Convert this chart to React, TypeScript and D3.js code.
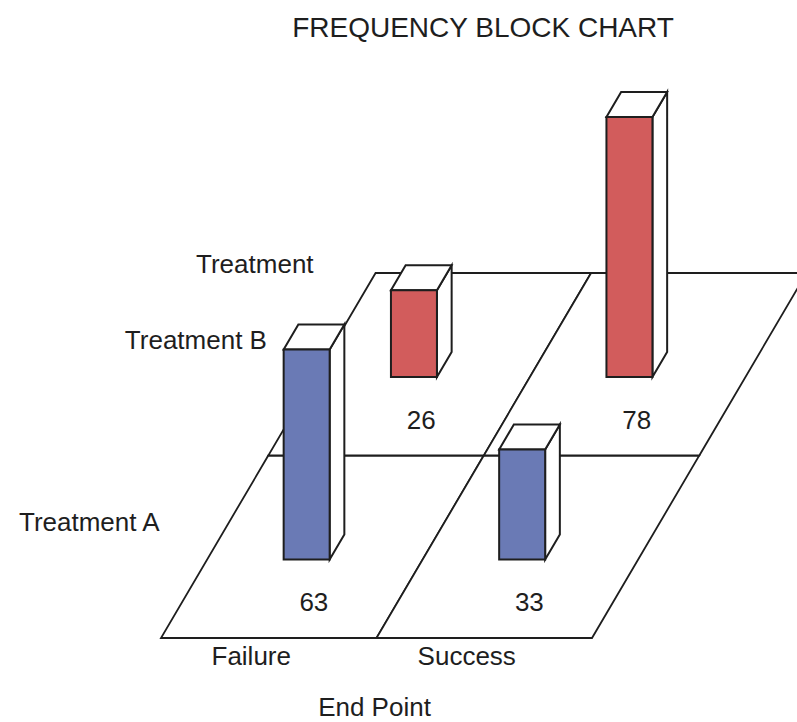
import React from "react";
import * as d3 from "d3";

const endPoints = ["Failure", "Success"];
const treatments = ["Treatment A", "Treatment B"];
const freqTreatmentA = [63, 33];
const freqTreatmentB = [26, 78];
const title = "FREQUENCY BLOCK CHART";
const xTitle = "End Point";
const zTitle = "Treatment";

const W = 797;
const H = 722;
const originX = 161;
const originY = 638;
const skew = 107 / 182;
const FONT = "'Liberation Sans', Arial, sans-serif";
const BLUE = "#6a7ab5";
const RED = "#d25c5c";
const INK = "#1e1e1e";

export default function App() {
  const xBand = d3.scaleBand<string>().domain(endPoints).range([0, 431]);
  const zBand = d3.scaleBand<string>().domain(treatments).range([0, 365]);
  const hScale = d3.scaleLinear().domain([0, 78]).range([0, 260]);

  const P = (u: number, v: number, h = 0): [number, number] => [
    originX + u + v * skew,
    originY - v - h,
  ];
  const poly = (pts: [number, number][]) => pts.map((p) => p.join(",")).join(" ");

  const bw = xBand.bandwidth();
  const bd = zBand.bandwidth();
  const uMax = 431;
  const vMax = 365;

  const cells: { c: string; r: string }[] = [];
  treatments.forEach((r) => endPoints.forEach((c) => cells.push({ c, r })));

  const series = [
    { r: treatments[1], vals: freqTreatmentB, color: RED },
    { r: treatments[0], vals: freqTreatmentA, color: BLUE },
  ];

  const barW = 46;
  const barD = 25;

  return (
    <svg width={W} height={H} style={{ position: "absolute", left: 0, top: 0, background: "#fff" }}>
      <text x={483} y={37} textAnchor="middle" fontFamily={FONT} fontSize={28} fill={INK}>
        {title}
      </text>
      {/* floor */}
      {cells.map(({ c, r }, i) => {
        const u0 = xBand(c)!;
        const v0 = zBand(r)!;
        return (
          <polygon
            key={i}
            points={poly([P(u0, v0), P(u0 + bw, v0), P(u0 + bw, v0 + bd), P(u0, v0 + bd)])}
            fill="#fff"
            stroke={INK}
            strokeWidth={1.8}
            strokeLinejoin="miter"
          />
        );
      })}
      {/* value labels */}
      {series.map((s) =>
        endPoints.map((c, i) => {
          const [x, y] = P(xBand(c)! + 137, zBand(s.r)! + 27);
          return (
            <text key={s.r + c} x={x} y={y} textAnchor="middle" fontFamily={FONT} fontSize={26} fill={INK}>
              {s.vals[i]}
            </text>
          );
        })
      )}
      {/* bars */}
      {series.map((s) =>
        endPoints.map((c, i) => {
          const h = hScale(s.vals[i]);
          const u0 = xBand(c)! + 0.355 * bw;
          const u1 = u0 + barW;
          const v0 = zBand(s.r)! + 78.5;
          const v1 = v0 + barD;
          return (
            <g key={"b" + s.r + c} stroke={INK} strokeWidth={2} strokeLinejoin="miter">
              <polygon points={poly([P(u1, v0), P(u1, v1), P(u1, v1, h), P(u1, v0, h)])} fill="#fff" />
              <polygon points={poly([P(u0, v0, h), P(u1, v0, h), P(u1, v1, h), P(u0, v1, h)])} fill="#fff" />
              <polygon points={poly([P(u0, v0), P(u1, v0), P(u1, v0, h), P(u0, v0, h)])} fill={s.color} />
            </g>
          );
        })
      )}
      {/* category labels */}
      {endPoints.map((c) => {
        const [x] = P(xBand(c)! + bw / 2 - 17.5, 0);
        return (
          <text key={c} x={x} y={665} textAnchor="middle" fontFamily={FONT} fontSize={26} fill={INK}>
            {c}
          </text>
        );
      })}
      <text x={P(uMax / 2, 0)[0] - 2} y={716} textAnchor="middle" fontFamily={FONT} fontSize={26} fill={INK}>
        {xTitle}
      </text>
      {treatments.map((r) => {
        const [x, y] = P(0, zBand(r)! + bd / 2);
        return (
          <text key={r} x={x - 55} y={y - 15.5} textAnchor="end" fontFamily={FONT} fontSize={26} fill={INK}>
            {r}
          </text>
        );
      })}
      <text x={P(0, vMax)[0] - 62} y={273} textAnchor="end" fontFamily={FONT} fontSize={26} fill={INK}>
        {zTitle}
      </text>
    </svg>
  );
}
